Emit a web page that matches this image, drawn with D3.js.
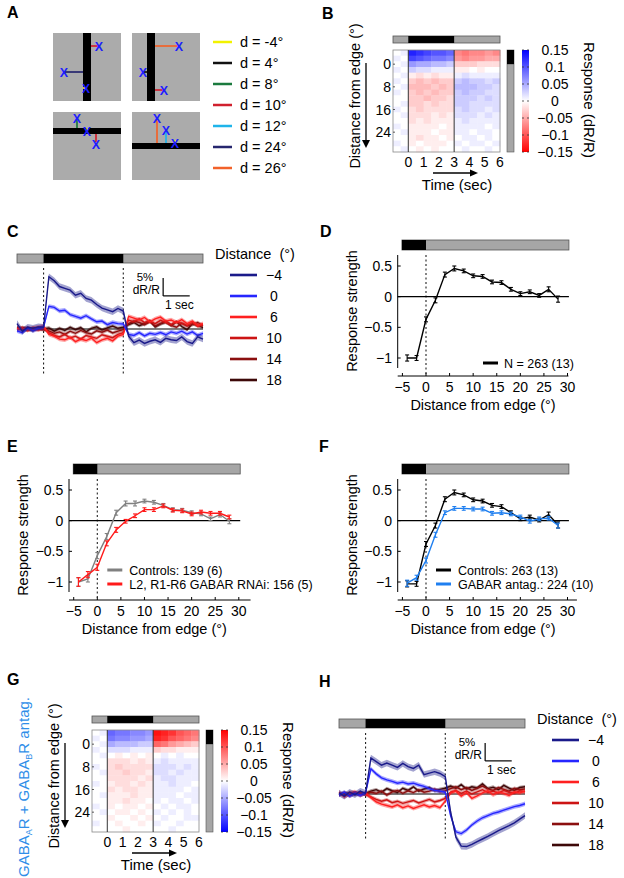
<!DOCTYPE html>
<html><head><meta charset="utf-8">
<script src="https://cdn.jsdelivr.net/npm/d3@7"></script>
<style>body{margin:0;background:#fff}</style>
</head><body>
<script>
// ================= DATA =================
// Panel A legend
const aDistLabels=["d = -4°","d = 4°","d = 8°","d = 10°","d = 12°","d = 24°","d = 26°"];
const aDistColors=["#f2f200","#111111","#1b7a3e","#d0202e","#1fb4ea","#26266e","#f2622a"];

// Panels B / G heatmaps (values in units of 0.01 dR/R)
const hmDistances=[-4,-2,0,2,4,6,8,10,12,14,16,18,20,22,24,26,28,30];
const hmTimeBins=[-1,-0.5,0,0.5,1,1.5,2,2.5,3,3.5,4,4.5,5,5.5];
const bValues=[
 [0,1,13,12,11,10,10,9,-7,-8,-7,-7,-6,-7],
 [1,0,11,10,9,8,8,7,-6,-7,-6,-6,-5,-5],
 [0,1,6,5,5,4,4,3,-3,-3,-3,-2,-2,-2],
 [1,0,3,2,2,1,1,1,-1,-1,0,-1,0,0],
 [0,1,-1,-2,-1,-2,-1,-1,1,2,1,1,1,1],
 [1,0,-3,-4,-3,-4,-3,-3,3,4,3,3,2,3],
 [0,1,-4,-4,-4,-3,-4,-3,4,4,4,3,3,2],
 [1,0,-3,-4,-3,-4,-3,-3,3,4,3,3,2,2],
 [0,0,-3,-3,-4,-3,-3,-2,3,3,3,2,3,2],
 [0,1,-3,-3,-2,-3,-2,-2,3,3,2,2,2,2],
 [1,0,-2,-3,-2,-2,-2,-2,2,3,2,2,1,2],
 [0,1,-2,-2,-2,-1,-2,-1,2,2,2,1,2,1],
 [0,0,-2,-1,-2,-1,-1,-1,1,2,1,1,1,1],
 [1,0,-1,-1,-1,-1,0,-1,1,1,1,1,0,1],
 [0,1,-1,-1,-1,0,-1,-1,1,1,0,1,1,0],
 [0,0,-1,-2,-1,-1,0,-1,0,1,1,0,1,0],
 [1,0,-1,0,-1,-1,-1,0,1,0,1,1,0,1],
 [0,1,0,-1,0,-1,0,0,0,1,0,0,1,0]
];
const gValues=[
 [0,-1,-9,-8,-8,-7,-7,-6,14,13,12,10,9,8],
 [-1,0,-8,-7,-7,-6,-6,-5,13,12,10,9,8,7],
 [0,-1,-5,-4,-4,-4,-3,-3,9,8,6,5,4,3],
 [-1,0,-2,-2,-2,-1,-1,-1,3,2,2,1,1,1],
 [0,-1,0,1,0,1,0,1,0,-1,0,-1,0,0],
 [0,0,2,2,2,1,2,1,-1,-2,-1,-1,-1,-1],
 [-1,0,2,3,2,2,2,2,-2,-2,-2,-1,-2,-1],
 [0,-1,2,2,3,2,2,1,-2,-2,-1,-2,-1,-1],
 [0,0,2,2,2,2,1,2,-1,-2,-2,-1,-1,-1],
 [-1,0,1,2,2,1,2,1,-1,-1,-2,-1,-1,0],
 [0,0,2,1,2,2,1,1,-1,-1,-1,-1,0,-1],
 [0,-1,1,1,1,2,1,1,-1,-1,-1,0,-1,-1],
 [0,0,1,1,2,1,1,0,-1,0,-1,-1,0,-1],
 [-1,0,1,0,1,1,0,1,0,-1,0,-1,-1,0],
 [0,-1,0,1,1,0,1,0,-1,0,-1,0,-1,0],
 [0,0,1,0,0,1,0,1,0,-1,0,0,-1,-1],
 [-1,0,0,1,0,0,1,0,-1,0,0,-1,0,0],
 [0,0,0,0,1,0,0,0,0,0,-1,0,0,0]
];
const cbTicks=[0.15,0.1,0.05,0,-0.05,-0.1,-0.15];
const cbTickLabels=["0.15","0.1","0.05","0","−0.05","−0.1","−0.15"];
const hmYTicks=[0,8,16,24];
const hmXTicks=[0,1,2,3,4,5,6];

// Panels C / H traces (dR/R in %)
const traceTimes=[-1,-0.8,-0.6,-0.4,-0.2,0,0.2,0.4,0.6,0.8,1,1.2,1.4,1.6,1.8,2,2.2,2.4,2.6,2.8,3,3.2,3.4,3.6,3.8,4,4.2,4.4,4.6,4.8,5,5.2,5.4,5.6,5.8,6];
const traceLabels=["−4","0","6","10","14","18"];
const traceColors=["#1a1a8a","#2626ff","#ff2020","#cc1414","#8b0f0f","#3d0808"];
const cTraces=[
 [1.5,-0.6,0.5,0.2,0.6,0.5,14.5,13.4,11.8,11.3,10.8,9.4,9.9,8.5,8.0,6.8,5.8,5.3,4.8,5.7,5.0,-2.0,-3.8,-3.1,-4.0,-3.4,-3.0,-3.7,-2.6,-3.0,-3.2,-2.2,-3.5,-4.0,-2.2,-2.8],
 [-0.5,-1.0,0.3,-0.5,0.2,0.5,6.3,6.0,5.0,5.2,4.0,3.5,3.0,3.7,2.8,2.0,2.2,1.2,1.8,1.5,1.4,-1.5,-1.8,-1.0,-1.9,-1.2,-1.5,-1.0,-1.6,-0.8,-1.2,-0.6,-1.4,-0.8,-1.8,-1.2],
 [0.0,0.3,-0.3,0.2,0.5,0.8,-1.5,-2.0,-2.8,-3.0,-2.3,-3.5,-2.8,-3.2,-2.5,-3.8,-3.0,-2.6,-3.3,-2.0,-1.5,3.5,3.0,2.5,3.2,2.0,2.8,3.3,2.2,2.5,1.8,2.6,1.5,2.2,1.0,1.5],
 [0.3,-0.2,0.4,0.0,-0.3,0.2,-1.0,-1.8,-2.2,-1.5,-2.5,-2.0,-2.8,-1.8,-2.2,-2.6,-1.6,-2.0,-2.4,-1.5,-1.0,2.5,2.0,2.8,1.8,2.2,1.5,2.4,1.8,1.2,2.0,1.6,1.0,1.8,0.8,1.2],
 [0.5,0.0,-0.4,0.3,0.0,-0.2,-0.5,-1.2,-0.8,-1.5,-0.6,-1.2,-0.4,-1.0,-1.4,-0.5,-0.9,-0.3,-1.1,-0.6,-0.2,1.5,2.2,1.8,1.2,2.0,0.8,1.5,2.2,1.0,0.5,1.6,0.8,1.2,1.8,0.9],
 [-0.3,0.4,0.1,-0.5,0.3,0.0,0.3,-0.6,0.2,-0.4,0.5,-0.2,0.4,-0.8,0.2,0.6,-0.3,0.3,0.8,0.2,0.5,1.2,1.8,0.9,1.5,2.3,0.6,1.4,1.9,1.0,2.0,0.7,-0.2,1.5,1.0,0.4]
];
const cSem=[0.9,0.6,0.6,0.5,0.5,0.5];
const hTraces=[
 [0.3,-0.6,0.5,-0.2,0.8,0.2,10.0,9.0,8.0,8.6,8.0,7.4,8.5,7.6,7.1,8.0,5.4,5.8,6.2,5.7,4.8,-5.0,-12.0,-14.5,-14.6,-14.0,-13.2,-12.5,-11.8,-11.0,-10.2,-9.5,-8.8,-8.0,-7.0,-6.0],
 [-0.3,0.5,-0.6,0.2,-0.4,0.3,7.0,5.6,4.5,3.9,3.5,3.0,3.3,2.8,3.0,2.5,2.1,1.5,1.0,0.8,0.5,-6.0,-10.5,-11.0,-10.0,-8.6,-7.5,-6.6,-6.0,-5.4,-5.0,-4.5,-4.0,-3.5,-3.2,-2.7],
 [0.5,-0.8,0.2,0.6,-0.4,0.3,-1.0,-2.2,-2.8,-3.2,-3.6,-3.0,-3.8,-3.3,-4.0,-3.5,-3.0,-3.6,-3.2,-3.8,-2.0,0.3,0.8,-0.6,0.4,-1.2,-0.5,0.3,0.9,-0.2,0.5,0.2,-0.4,0.6,0.3,0.8],
 [-0.3,0.4,-0.6,0.2,0.5,-0.2,-0.8,-1.5,-2.0,-1.6,-2.4,-2.0,-2.6,-2.2,-1.8,-2.5,-2.0,-1.5,-2.2,-1.8,-1.2,0.5,1.0,0.2,0.8,0.0,0.6,1.2,0.4,0.8,0.3,1.0,0.5,0.2,0.9,0.6],
 [0.2,-0.4,0.5,-0.2,0.3,0.0,0.5,0.2,0.8,-0.3,0.6,1.0,0.2,0.9,0.4,1.2,0.5,0.8,1.4,0.6,0.9,1.5,2.0,1.2,1.8,1.0,1.6,2.2,1.4,1.0,1.8,1.3,0.8,1.6,1.2,1.4],
 [-0.2,0.3,0.0,0.4,-0.3,0.2,0.8,1.2,0.5,1.5,0.9,0.4,1.6,1.0,2.0,0.8,1.4,1.8,0.9,1.3,1.6,2.2,1.6,2.6,1.4,2.0,1.7,2.8,1.5,1.9,1.2,2.4,1.6,1.0,1.8,2.0]
];
const hSem=[0.9,0.6,0.6,0.5,0.5,0.5];

// Panels D / E / F response strength
const edgeDistances=[-4,-2,0,2,4,6,8,10,12,14,16,18,20,22,24,26,28];
const dCtrl=[-1.0,-1.0,-0.37,-0.06,0.36,0.46,0.42,0.34,0.33,0.24,0.23,0.12,0.05,0.08,0.02,0.12,-0.04];
const dCtrlErr=[0.05,0.04,0.04,0.04,0.04,0.04,0.03,0.03,0.03,0.03,0.03,0.03,0.03,0.03,0.03,0.04,0.05];
const eCtrl=[-1.0,-0.95,-0.57,-0.26,0.13,0.28,0.28,0.32,0.30,0.25,0.18,0.17,0.13,0.11,0.03,0.10,-0.01];
const eCtrlErr=[0.07,0.05,0.05,0.05,0.04,0.04,0.04,0.03,0.03,0.03,0.03,0.03,0.03,0.03,0.03,0.04,0.04];
const eRnai=[-1.0,-0.88,-0.76,-0.37,-0.15,-0.01,0.08,0.18,0.18,0.24,0.17,0.16,0.11,0.14,0.12,0.12,0.06];
const eRnaiErr=[0.07,0.05,0.05,0.04,0.04,0.03,0.03,0.03,0.03,0.03,0.03,0.03,0.03,0.03,0.03,0.03,0.03];
const fCtrl=[-1.03,-1.03,-0.38,-0.08,0.35,0.46,0.42,0.34,0.32,0.25,0.23,0.13,0.03,0.06,0.01,0.10,-0.07];
const fCtrlErr=[0.05,0.04,0.04,0.04,0.04,0.04,0.03,0.03,0.03,0.03,0.03,0.03,0.03,0.03,0.03,0.04,0.05];
const fAntag=[-1.02,-0.93,-0.65,-0.23,0.13,0.20,0.20,0.19,0.19,0.12,0.13,0.11,0.06,-0.01,0.03,0.04,-0.08];
const fAntagErr=[0.05,0.04,0.04,0.04,0.03,0.03,0.03,0.03,0.03,0.03,0.03,0.03,0.03,0.03,0.03,0.03,0.04];
const strengthYTicks=[0.5,0,-0.5,-1];
const strengthYLabels=["0.5","0","−0.5","−1"];
const strengthXTicks=[-5,0,5,10,15,20,25,30];
const strengthXLabels=["−5","0","5","10","15","20","25","30"];

// ================= DRAWING =================
const FONT='"Liberation Sans", Arial, Helvetica, sans-serif';
const svg=d3.select("body").append("svg").attr("width",624).attr("height",878)
  .style("font-family",FONT).style("display","block");
svg.append("rect").attr("width",624).attr("height",878).attr("fill","#fff");
const defs=svg.append("defs");

function txt(g,x,y,s,size,opts={}){
  const t=g.append("text").attr("x",x).attr("y",y).attr("font-size",size).attr("fill",opts.fill||"#000").text(s);
  if(opts.anchor) t.attr("text-anchor",opts.anchor);
  if(opts.weight) t.attr("font-weight",opts.weight);
  if(opts.db) t.attr("dominant-baseline",opts.db);
  if(opts.pre) t.style("white-space","pre");
  return t;
}
function line(g,x1,y1,x2,y2,c,w,dash){
  const l=g.append("line").attr("x1",x1).attr("y1",y1).attr("x2",x2).attr("y2",y2).attr("stroke",c).attr("stroke-width",w);
  if(dash) l.attr("stroke-dasharray",dash);
  return l;
}
function stimBar(g,x0,x1,y,h,b0,b1){
  g.append("rect").attr("x",x0).attr("y",y).attr("width",x1-x0).attr("height",h).attr("fill","#a6a6a6").attr("stroke","#555").attr("stroke-width",0.8);
  g.append("rect").attr("x",b0).attr("y",y).attr("width",b1-b0).attr("height",h).attr("fill","#000");
}
function rotText(g,x,y,angle,s,size,fill){
  return g.append("text").attr("transform",`translate(${x},${y}) rotate(${angle})`).attr("text-anchor","middle")
    .attr("font-size",size).attr("fill",fill||"#000").text(s);
}

// Panel letters
[["A",7,18],["B",322,19],["C",7,237],["D",320,237],["E",7,452],["F",319,452],["G",7,685],["H",319,687]]
 .forEach(([s,x,y])=>txt(svg,x,y,s,16,{weight:"bold"}));

// ---------- Panel A ----------
(function(){
  const g=svg.append("g");
  function xMark(gg,x,y){ gg.append("text").attr("x",x).attr("y",y+4.5).attr("text-anchor","middle")
      .attr("font-size",12.5).attr("font-weight","bold").attr("fill","#1d1dff").text("X"); }
  function seg(gg,x1,y1,x2,y2,c){ line(gg,x1,y1,x2,y2,c,1.7); }
  const C=aDistColors;
  const sq=[[53,33],[132,33],[53,112],[132,112]];
  const gs=sq.map(([x,y])=>{
    const gg=g.append("g").attr("transform",`translate(${x},${y})`);
    gg.append("rect").attr("width",68).attr("height",68).attr("fill","#ababab");
    return gg;
  });
  gs[0].append("rect").attr("x",30).attr("y",0).attr("width",8).attr("height",68).attr("fill","#000");
  seg(gs[0],38,13,45,13,C[3]); xMark(gs[0],46,13);
  seg(gs[0],12,39,30,39,C[5]); xMark(gs[0],11,39);
  seg(gs[0],30,55,33,55,C[0]); xMark(gs[0],33,55);
  gs[1].append("rect").attr("x",15).attr("y",0).attr("width",8).attr("height",68).attr("fill","#000");
  seg(gs[1],23,13,46,13,C[6]); xMark(gs[1],47,13);
  seg(gs[1],12,39,15,39,C[1]); xMark(gs[1],11,39);
  seg(gs[1],23,57,31,57,C[3]); xMark(gs[1],32,57);
  gs[2].append("rect").attr("x",0).attr("y",16).attr("width",68).attr("height",6).attr("fill","#000");
  seg(gs[2],24,8,24,16,C[2]); xMark(gs[2],24,6);
  seg(gs[2],34,16,34,19,C[0]); xMark(gs[2],34,19);
  seg(gs[2],43,22,43,30,C[3]); xMark(gs[2],43,32);
  gs[3].append("rect").attr("x",0).attr("y",31).attr("width",68).attr("height",6).attr("fill","#000");
  seg(gs[3],25,31,25,8,C[6]); xMark(gs[3],25,6);
  seg(gs[3],34,31,34,20,C[4]); xMark(gs[3],34,18);
  seg(gs[3],43,28,43,31,C[0]); xMark(gs[3],43,31);
  aDistLabels.forEach((s,i)=>{
    const y=42+i*21;
    line(g,213,y,232,y,aDistColors[i],2.5);
    txt(g,240,y+5,s,14.5);
  });
})();

// ---------- Heatmap panels B & G ----------
function heatPanel(tx,ty,vals,posColor,negColor,gid){
  const g=svg.append("g").attr("transform",`translate(${tx},${ty})`);
  const x=d3.scaleLinear().domain([-1,6]).range([393,500]);
  const y=d3.scaleLinear().domain([-5,31]).range([50,152]);
  const color=d3.scaleLinear().domain([-0.15,0,0.15]).range([negColor,"#ffffff",posColor]).clamp(true);
  hmDistances.forEach((d,i)=>{
    hmTimeBins.forEach((t,j)=>{
      g.append("rect").attr("x",x(t)).attr("y",y(d-1)).attr("width",x(t+0.5)-x(t)+0.4)
        .attr("height",y(d+1)-y(d-1)+0.4).attr("fill",color(vals[i][j]/100));
    });
  });
  g.append("rect").attr("x",x(-1)).attr("y",y(-5)).attr("width",x(6)-x(-1)).attr("height",y(31)-y(-5))
    .attr("fill","none").attr("stroke","#888").attr("stroke-width",0.8);
  [0,3].forEach(t=>line(g,x(t),y(-5),x(t),y(31),"#333",1));
  stimBar(g,x(-1),x(6),36,7,x(0),x(3));
  hmYTicks.forEach(v=>{ txt(g,391,y(v),String(v),14,{anchor:"end",db:"central"}); line(g,393,y(v),395,y(v),"#333",0.8); });
  hmXTicks.forEach(v=>{ txt(g,x(v),167,String(v),14,{anchor:"middle"}); });
  g.append("rect").attr("x",507).attr("y",y(-5)).attr("width",7).attr("height",y(31)-y(-5)).attr("fill","#a6a6a6").attr("stroke","#555").attr("stroke-width",0.6);
  g.append("rect").attr("x",507).attr("y",y(-5)).attr("width",7).attr("height",y(0)-y(-5)).attr("fill","#000");
  const grad=defs.append("linearGradient").attr("id",gid).attr("x1",0).attr("y1",0).attr("x2",0).attr("y2",1);
  [[0,0.15],[0.5,0],[1,-0.15]].forEach(([o,v])=>grad.append("stop").attr("offset",o).attr("stop-color",color(v)));
  const cy=d3.scaleLinear().domain([-0.15,0.15]).range([152,50]);
  g.append("rect").attr("x",522).attr("y",50).attr("width",7).attr("height",102).attr("fill",`url(#${gid})`);
  cbTicks.forEach((v,i)=>{
    line(g,522,cy(v),524,cy(v),"#333",0.8); line(g,527,cy(v),529,cy(v),"#333",0.8);
    txt(g,555,cy(v),cbTickLabels[i],14,{anchor:"middle",db:"central"});
  });
  rotText(g,584,100,90,"Response (dR/R)",15);
  rotText(g,360,96,-90,"Distance from edge (°)",14.5);
  line(g,366,63,366,141,"#000",1.3);
  g.append("path").attr("d","M362,140 L370,140 L366,148 Z").attr("fill","#000");
  line(g,433,173,471,173,"#000",1.3);
  g.append("path").attr("d","M470,169.5 L478,173 L470,176.5 Z").attr("fill","#000");
  txt(g,457,190,"Time (sec)",15,{anchor:"middle"});
  return g;
}
heatPanel(0,0,bValues,"#0000ff","#ff0000","cbB");
heatPanel(-301,680,gValues,"#ff0000","#0000ff","cbG");
(function(){
  const t=svg.append("text").attr("transform","translate(29,787) rotate(-90)").attr("text-anchor","middle")
    .attr("font-size",15).attr("fill","#2f8ee8");
  t.append("tspan").text("GABA");
  t.append("tspan").attr("font-size",9).attr("dy",3).text("A");
  t.append("tspan").attr("dy",-3).text("R + GABA");
  t.append("tspan").attr("font-size",9).attr("dy",3).text("B");
  t.append("tspan").attr("dy",-3).text("R antag.");
})();

// ---------- Trace panels C & H ----------
function tracePanel(tx,ty,traces,sem){
  const g=svg.append("g").attr("transform",`translate(${tx},${ty})`);
  const x=d3.scaleLinear().domain([-1,6]).range([17,203]);
  const y=d3.scaleLinear().domain([0,5]).range([329,311]);
  stimBar(g,x(-1),x(6),254,9,x(0),x(3));
  [0,3].forEach(t=>line(g,x(t),268,x(t),376,"#222",1.1,"2,2.5"));
  line(g,x(-1),y(0),x(6),y(0),"#000",1.2);
  for(let i=traces.length-1;i>=0;i--){
    const pts=traceTimes.map((t,k)=>({t,v:traces[i][k]}));
    const area=d3.area().x(d=>x(d.t)).y0(d=>y(d.v-sem[i])).y1(d=>y(d.v+sem[i]));
    g.append("path").attr("d",area(pts)).attr("fill",traceColors[i]).attr("opacity",0.4);
    const ln=d3.line().x(d=>x(d.t)).y(d=>y(d.v));
    g.append("path").attr("d",ln(pts)).attr("fill","none").attr("stroke",traceColors[i]).attr("stroke-width",1.4);
  }
  line(g,x(4.5),y(9.2),x(4.5),y(14.2),"#000",1.2);
  line(g,x(4.5),y(9.2),x(5.5),y(9.2),"#000",1.2);
  txt(g,145,281,"5%",11.5,{anchor:"middle"});
  txt(g,160,293.5,"dR/R",12,{anchor:"end"});
  txt(g,165,309,"1 sec",12);
  txt(g,215,259,"Distance  (°)",14.5,{pre:true});
  traceLabels.forEach((s,i)=>{
    const yy=275+i*21;
    line(g,230,yy,257,yy,traceColors[i],2.6);
    txt(g,274,yy+5,s,14,{anchor:"middle"});
  });
}
tracePanel(0,0,cTraces,cSem);
tracePanel(322,465,hTraces,hSem);

// ---------- Response strength panels D, E, F ----------
function strengthPanel(tx,ty,series,xEnd,legend){
  const g=svg.append("g").attr("transform",`translate(${tx},${ty})`);
  const x=d3.scaleLinear().domain([0,30]).range([426,567.5]);
  const y=d3.scaleLinear().domain([-1,0.5]).range([358,266]);
  const axY=376, left=x(-6);
  stimBar(g,x(-5.1),x(30.3),240,10,x(-5.1),x(0));
  line(g,left,255,left,368,"#000",1);
  line(g,left,axY,x(xEnd),axY,"#000",1);
  strengthYTicks.forEach((v,i)=>{ line(g,left,y(v),left+3,y(v),"#000",1); txt(g,392,y(v),strengthYLabels[i],14,{anchor:"end",db:"central"}); });
  strengthXTicks.forEach((v,i)=>{ line(g,x(v),axY,x(v),axY-3,"#000",1); txt(g,x(v),392,strengthXLabels[i],14,{anchor:"middle"}); });
  txt(g,483,410,"Distance from edge (°)",14.5,{anchor:"middle"});
  rotText(g,357,311,-90,"Response strength",14.5);
  line(g,x(0),255,x(0),axY,"#222",1.1,"2,2.5");
  line(g,left,y(0),x(30.3),y(0),"#000",1.1);
  series.forEach(s=>{
    const pts=edgeDistances.map((d,k)=>({d,v:s.values[k],e:s.err[k]}));
    const ln=d3.line().x(p=>x(p.d)).y(p=>y(p.v));
    g.append("path").attr("d",ln(pts)).attr("fill","none").attr("stroke",s.color).attr("stroke-width",1.4);
    pts.forEach(p=>{
      line(g,x(p.d),y(p.v-p.e),x(p.d),y(p.v+p.e),s.color,1.1);
      line(g,x(p.d)-2,y(p.v-p.e),x(p.d)+2,y(p.v-p.e),s.color,1.1);
      line(g,x(p.d)-2,y(p.v+p.e),x(p.d)+2,y(p.v+p.e),s.color,1.1);
    });
  });
  legend.forEach(l=>{
    line(g,l.x1,l.y,l.x2,l.y,l.color,3);
    txt(g,l.tx,l.y+4.5,l.text,12.5,{pre:true});
  });
}
strengthPanel(0,0,[{values:dCtrl,err:dCtrlErr,color:"#000"}],30.2,
  [{x1:483,x2:498,y:363,tx:504,color:"#000",text:"N = 263 (13)"}]);
strengthPanel(-328.7,224,[
   {values:eCtrl,err:eCtrlErr,color:"#808080"},
   {values:eRnai,err:eRnaiErr,color:"#ff1a1a"}],32.5,
  [{x1:436,x2:451,y:346,tx:458,color:"#808080",text:"Controls: 139 (6)"},
   {x1:436,x2:451,y:360,tx:458,color:"#ff1a1a",text:"L2, R1-R6 GABAR RNAi: 156 (5)"}]);
strengthPanel(0,224,[
   {values:fCtrl,err:fCtrlErr,color:"#000"},
   {values:fAntag,err:fAntagErr,color:"#1f7ff0"}],32,
  [{x1:436,x2:451,y:346,tx:458,color:"#000",text:"Controls: 263 (13)"},
   {x1:436,x2:451,y:360,tx:458,color:"#1f7ff0",text:"GABAR antag.: 224 (10)"}]);
</script>
</body></html>
